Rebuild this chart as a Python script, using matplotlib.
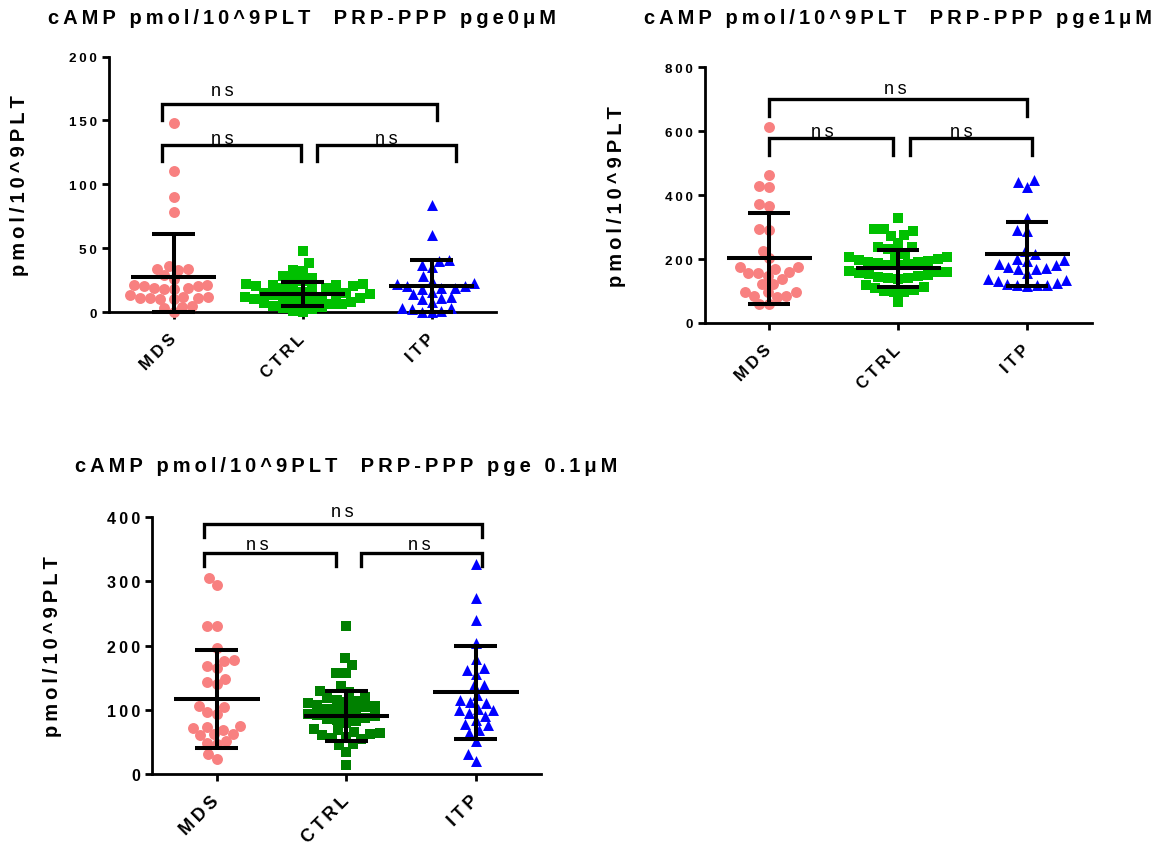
import numpy as np
import matplotlib
matplotlib.use("Agg")
import matplotlib.pyplot as plt

plt.rcParams["font.family"] = ["Liberation Sans", "DejaVu Sans"]

groups = ["MDS", "CTRL", "ITP"]

# pge 0 uM
mds_0 = [148, 110, 90, 78, 36, 34, 34, 33, 29, 26, 21, 21, 20, 20, 19, 19, 18, 18,
         13, 12, 12, 11, 11, 11, 10, 10, 5, 4, 3, 0]
ctrl_0 = [48, 38, 33, 32, 28, 27, 25, 24, 22, 22, 21, 21, 20, 20, 19, 19, 18, 17, 16,
          15, 15, 14, 13, 13, 12, 12, 11, 11, 10, 10, 9, 8, 8, 7, 6, 6, 5, 4, 3, 2, 1, 0]
itp_0 = [84, 60, 41, 40, 37, 35, 28, 24, 23, 22, 20, 20, 19, 19, 18, 16, 14, 12, 11,
         10, 8, 3, 3, 2, 1, 0, 0]
mean_0 = [27.5, 14.3, 20.4]
sd_0 = [33.2, 9.4, 20.1]

# pge 1 uM
mds_1 = [612, 464, 430, 426, 372, 367, 294, 291, 226, 202, 176, 174, 169, 160, 156,
         156, 148, 138, 122, 122, 96, 96, 96, 86, 86, 80, 59, 59]
ctrl_1 = [330, 294, 294, 289, 275, 271, 250, 237, 237, 230, 215, 210, 208, 205, 200,
          198, 195, 192, 190, 188, 185, 182, 180, 164, 160, 158, 155, 152, 150, 148,
          145, 142, 140, 138, 120, 112, 108, 104, 100, 98, 96, 67]
itp_1 = [448, 440, 426, 327, 292, 287, 226, 216, 200, 197, 195, 185, 180, 176, 172,
         170, 168, 155, 138, 135, 130, 126, 122, 120, 120, 118, 115]
mean_1 = [202, 171, 215]
sd_1 = [141, 57, 100]

# pge 0.1 uM
mds_01 = [305, 295, 230, 230, 196, 178, 176, 168, 165, 148, 143, 140, 106, 104, 96,
          94, 75, 73, 71, 68, 63, 62, 60, 52, 49, 47, 31, 23]
ctrl_01 = [230, 181, 170, 157, 157, 137, 130, 127, 120, 118, 116, 114, 112, 110, 108,
           106, 104, 102, 100, 98, 96, 94, 92, 90, 88, 86, 84, 82, 80, 70, 68, 66, 64,
           62, 60, 58, 56, 55, 47, 45, 35, 14]
itp_01 = [328, 275, 240, 204, 179, 165, 162, 156, 139, 138, 123, 116, 112, 110, 102,
          99, 99, 95, 91, 84, 78, 76, 69, 64, 52, 31, 21]
mean_01 = [117, 90, 127]
sd_01 = [76, 39, 72]

titles = ["cAMP pmol/10^9PLT  PRP-PPP pge0\u03bcM",
          "cAMP pmol/10^9PLT  PRP-PPP pge1\u03bcM",
          "cAMP pmol/10^9PLT  PRP-PPP pge 0.1\u03bcM"]
ylabel = "pmol/10^9PLT"

W, H = 1172, 853
fig = plt.figure(figsize=(W / 100, H / 100), dpi=100)


def spaced(s):
    # GraphPad-style letter spacing
    return "\u2009".join(s)


def add_panel(l, r, t, b):
    return fig.add_axes([l / W, 1 - b / H, (r - l) / W, (b - t) / H])


def swarm(vals, diam, px_x, px_y):
    ys = np.asarray(vals, dtype=float) * px_y
    xs = np.zeros(len(ys))
    placed = []
    for i in np.argsort(ys):
        y = ys[i]
        near = [(px, py) for px, py in placed if abs(py - y) < diam]
        cands = [0.0]
        for px, py in near:
            dx = np.sqrt(diam ** 2 - (py - y) ** 2)
            cands += [px + dx, px - dx]
        cands.sort(key=lambda c: (round(abs(c), 3), c))
        for c in cands:
            if all((c - px) ** 2 + (y - py) ** 2 >= diam ** 2 - 1e-6 for px, py in near):
                xs[i] = c
                break
        placed.append((xs[i], y))
    return xs / px_x


def draw_panel(ax, series, means, sds, colors, ymax, yticks, brackets, ns,
               ytick_fs=9.7, xtick_fs=12):
    ax.set_xlim(-0.5, 2.5)
    ax.set_ylim(0, ymax)
    bb = ax.get_window_extent()
    px_x, px_y = bb.width / 3, bb.height / ymax
    markers = ["o", "s", "^"]
    for i, vals in enumerate(series):
        xo = swarm(vals, 10.0, px_x, px_y)
        ax.scatter(i + xo, vals, s=62, marker=markers[i], color=colors[i],
                   linewidths=0, clip_on=False, zorder=3)
        m, sd = means[i], sds[i]
        lo, hi = max(m - sd, 0), m + sd
        kw = dict(color="black", lw=2.9, solid_capstyle="butt", zorder=4, clip_on=False)
        ax.plot([i - 0.33, i + 0.33], [m, m], **kw)
        ax.plot([i, i], [lo, hi], **kw)
        ax.plot([i - 0.165, i + 0.165], [hi, hi], **kw)
        ax.plot([i - 0.165, i + 0.165], [lo, lo], **kw)
    for x0, x1, y, yd in brackets:
        ax.plot([x0, x0, x1, x1], [yd, y, y, yd], color="black", lw=2.4,
                solid_joinstyle="miter", clip_on=False, zorder=4)
    for x, y in ns:
        ax.text(x, y, spaced("ns"), ha="center", va="baseline", fontsize=13)

    for s in ["top", "right"]:
        ax.spines[s].set_visible(False)
    for s in ["left", "bottom"]:
        ax.spines[s].set_linewidth(2)
    ax.tick_params(width=2, length=5.3, direction="out", pad=3.3)
    ax.set_yticks(yticks)
    ax.set_yticklabels([spaced(str(v)) for v in yticks], fontsize=ytick_fs,
                       fontweight="bold")
    ax.set_xticks([0, 1, 2])
    ax.set_xticklabels([spaced(g) for g in groups], rotation=45, ha="right", va="center",
                       rotation_mode="anchor", fontsize=xtick_fs, fontweight="bold")
    ax.tick_params(axis="x", pad=12)


pink, blue = "#F88080", "#0000FF"

ax1 = add_panel(109, 496, 57.5, 313)
draw_panel(ax1, [mds_0, ctrl_0, itp_0], mean_0, sd_0, [pink, "#00C000", blue],
           200, [0, 50, 100, 150, 200],
           [(-0.09, 2.04, 163, 150), (-0.09, 0.99, 131, 118.5), (1.11, 2.19, 131, 118.5)],
           [(0.38, 170), (0.38, 132), (1.65, 132)])

ax2 = add_panel(704.6, 1091.6, 68.3, 324)
draw_panel(ax2, [mds_1, ctrl_1, itp_1], mean_1, sd_1, [pink, "#00C000", blue],
           800, [0, 200, 400, 600, 800],
           [(0.0, 2.0, 701, 647), (0.0, 0.96, 578, 526), (1.09, 2.04, 578, 526)],
           [(0.98, 720), (0.41, 585), (1.49, 585)])

ax3 = add_panel(152, 540.6, 518.3, 775)
draw_panel(ax3, [mds_01, ctrl_01, itp_01], mean_01, sd_01, [pink, "#008000", blue],
           400, [0, 100, 200, 300, 400],
           [(-0.1, 2.05, 390, 369), (-0.1, 0.92, 344, 324), (1.11, 2.05, 344, 324)],
           [(0.97, 402), (0.31, 350), (1.56, 350)],
           ytick_fs=11.5, xtick_fs=13)

# titles and y-axis labels
for ax, title, ty, yx in [(ax1, titles[0], 18, 20), (ax2, titles[1], 19, 616),
                          (ax3, titles[2], 467, 53)]:
    p = ax.get_position()
    fig.text(p.x0 + p.width / 2, 1 - ty / H, spaced(title), ha="center", va="center",
             fontsize=14.5, fontweight="bold")
    fig.text(yx / W, p.y0 + p.height / 2, spaced(ylabel), rotation=90, ha="center",
             va="center", fontsize=14.5, fontweight="bold")

fig.savefig("out.png", dpi=100)
